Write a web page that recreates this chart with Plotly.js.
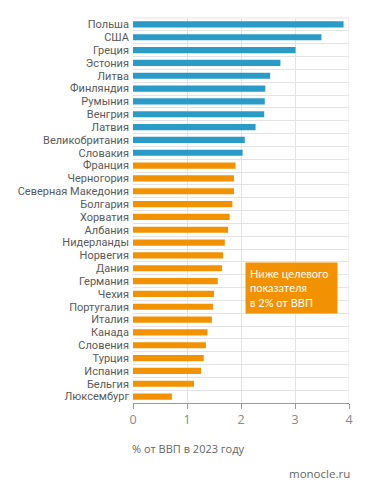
<!DOCTYPE html>
<html><head><meta charset="utf-8">
<script src="https://cdn.plot.ly/plotly-3.0.1.min.js"></script>
<style>html,body{margin:0;padding:0;background:#fff}#chart{width:371px;height:494px}</style>
</head><body><div id="chart"></div>
<script>
const countries = ["Польша","США","Греция","Эстония","Литва","Финляндия","Румыния","Венгрия","Латвия","Великобритания","Словакия","Франция","Черногория","Северная Македония","Болгария","Хорватия","Албания","Нидерланды","Норвегия","Дания","Германия","Чехия","Португалия","Италия","Канада","Словения","Турция","Испания","Бельгия","Люксембург"];
const values = [3.90,3.49,3.01,2.73,2.54,2.45,2.44,2.43,2.27,2.07,2.03,1.90,1.87,1.87,1.84,1.79,1.76,1.70,1.67,1.65,1.57,1.50,1.48,1.46,1.38,1.35,1.31,1.26,1.13,0.72];
const target = 2;
const xTicks = [0,1,2,3,4];
const boxLabel = "Ниже целевого<br>показателя<br>в 2% от ВВП";
const xTitle = "% от ВВП в 2023 году";
const source = "monocle.ru";

const colors = values.map(v => v >= target ? "#2a9bc6" : "#f39200");
const font = "Lato, 'Open Sans', sans-serif";
const labelFont = "Roboto, Lato, sans-serif";

Plotly.newPlot("chart", [{
  type: "bar", orientation: "h",
  y: countries, x: values,
  marker: {color: colors},
  hoverinfo: "skip"
}], {
  width: 371, height: 494,
  margin: {l: 133, r: 22, t: 18, b: 91},
  paper_bgcolor: "#fff", plot_bgcolor: "#fff",
  bargap: 0.52,
  showlegend: false,
  font: {family: font, color: "#555"},
  xaxis: {
    range: [0, 4], tickvals: xTicks, ticktext: xTicks.map(String),
    showgrid: true, gridcolor: "#e3e3e3", gridwidth: 1,
    zeroline: false, showline: true, linecolor: "#999", linewidth: 1,
    ticks: "outside", ticklen: 5, tickcolor: "#999",
    tickfont: {family: "'Open Sans', sans-serif", size: 12.5, color: "#888"},
    fixedrange: true
  },
  yaxis: {
    autorange: "reversed",
    tickmode: "array", tickvals: countries, ticktext: countries,
    tickson: "boundaries", showgrid: true, gridcolor: "#e3e3e3", gridwidth: 1,
    ticks: "", ticklen: 0, zeroline: false, showline: false,
    tickfont: {family: labelFont, size: 11, color: "#5a5a5a"},
    ticklabelstandoff: 3,
    fixedrange: true
  },
  shapes: [
    {type: "line", xref: "x", yref: "paper", x0: 4, x1: 4, y0: 0, y1: 1, line: {color: "#e3e3e3", width: 1}},
    {type: "line", xref: "paper", yref: "paper", x0: 0, x1: 1, y0: 1, y1: 1, line: {color: "#e3e3e3", width: 1}}
  ],
  annotations: [
    {xref: "x", yref: "paper", x: 2.07, y: 0.366, xanchor: "left", yanchor: "top",
     text: boxLabel, showarrow: false, align: "left",
     bgcolor: "#f39200", borderpad: 4, width: 83,
     font: {family: font, size: 11, color: "#fff"}},
    {xref: "paper", yref: "paper", x: 0, y: -0.094, xanchor: "left", yanchor: "top",
     text: xTitle, showarrow: false, xshift: -3, font: {family: "'Open Sans', sans-serif", size: 11, color: "#666"}},
    {xref: "paper", yref: "paper", x: 1.015, y: -0.158, xanchor: "right", yanchor: "top",
     text: source, showarrow: false, font: {family: "'Open Sans', sans-serif", size: 11.5, color: "#666"}}
  ]
}, {displayModeBar: false, staticPlot: true});
</script></body></html>
